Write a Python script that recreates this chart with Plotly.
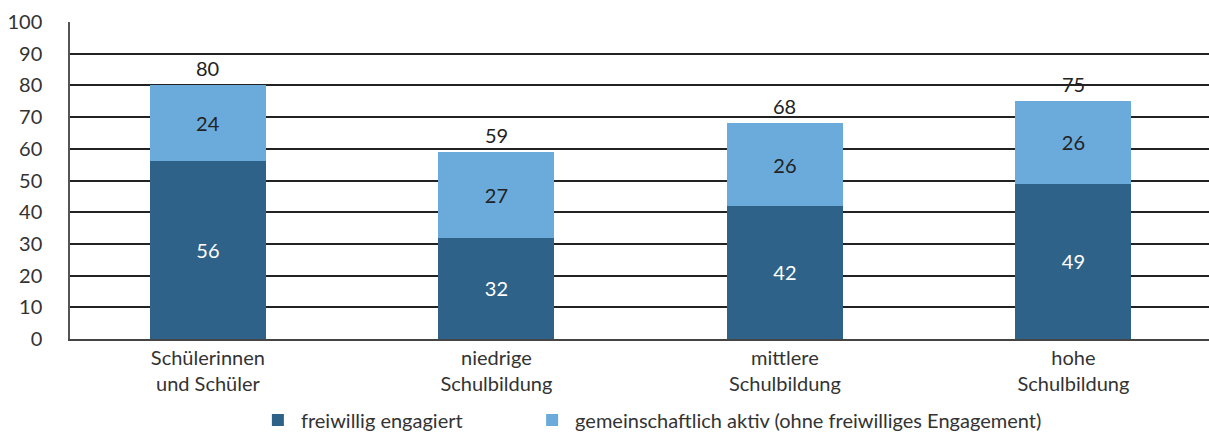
import plotly.graph_objects as go

categories = ["Schülerinnen<br>und Schüler", "niedrige<br>Schulbildung", "mittlere<br>Schulbildung", "hohe<br>Schulbildung"]
freiwillig = [56, 32, 42, 49]
gemeinschaftlich = [24, 27, 26, 26]
totals = [a + b for a, b in zip(freiwillig, gemeinschaftlich)]
y_ticks = list(range(0, 101, 10))
series_names = ["freiwillig engagiert", "gemeinschaftlich aktiv (ohne freiwilliges Engagement)"]

DARK = "#2E6289"
LIGHT = "#6BABDB"
FONT = "Lato"
FS = 20

fig = go.Figure()
fig.add_trace(go.Bar(
    x=categories, y=freiwillig, name=series_names[0] + "\u00a0" * 12,
    marker=dict(color=DARK, line=dict(width=0)),
    text=freiwillig, textposition="inside", insidetextanchor="middle",
    textfont=dict(color="white", size=FS, family=FONT),
))
fig.add_trace(go.Bar(
    x=categories, y=gemeinschaftlich, name=series_names[1],
    marker=dict(color=LIGHT, line=dict(width=0)),
    text=gemeinschaftlich, textposition="inside", insidetextanchor="middle",
    textfont=dict(color="#222222", size=FS, family=FONT),
))

for c, t in zip(categories, totals):
    fig.add_annotation(x=c, y=t, text=str(t), showarrow=False, yshift=17,
                       yanchor="middle", font=dict(color="#222222", size=FS, family=FONT))

fig.update_layout(
    width=1209, height=432,
    barmode="stack", bargap=0.598,
    margin=dict(l=70, r=0, t=22, b=93, autoexpand=False),
    plot_bgcolor="white", paper_bgcolor="white",
    font=dict(family=FONT, color="#333333", size=FS),
    legend=dict(
        orientation="h", x=0.51, xanchor="center",
        yref="container", y=0.028, yanchor="middle",
        font=dict(size=FS, color="#333333", family=FONT),
        traceorder="normal", itemwidth=36,
    ),
    showlegend=True,
)
fig.update_xaxes(
    type="category", range=[-0.478, 3.47], automargin=False,
    showgrid=False, showline=True, linecolor="#444444", linewidth=1.5,
    tickfont=dict(size=FS, color="#333333", family=FONT),
    ticks="", fixedrange=True,
)
fig.update_yaxes(
    range=[0, 100], tickvals=y_ticks, showgrid=True, gridcolor="#222222", gridwidth=1.5,
    showline=True, linecolor="#555555", linewidth=1.5, zeroline=False, automargin=False,
    tickfont=dict(size=FS, color="#333333", family=FONT),
    ticklabelstandoff=22, fixedrange=True,
)

fig.write_html(
    "out.html",
    config={"displayModeBar": False, "responsive": False},
    post_script="document.body.style.margin='0';",
)
